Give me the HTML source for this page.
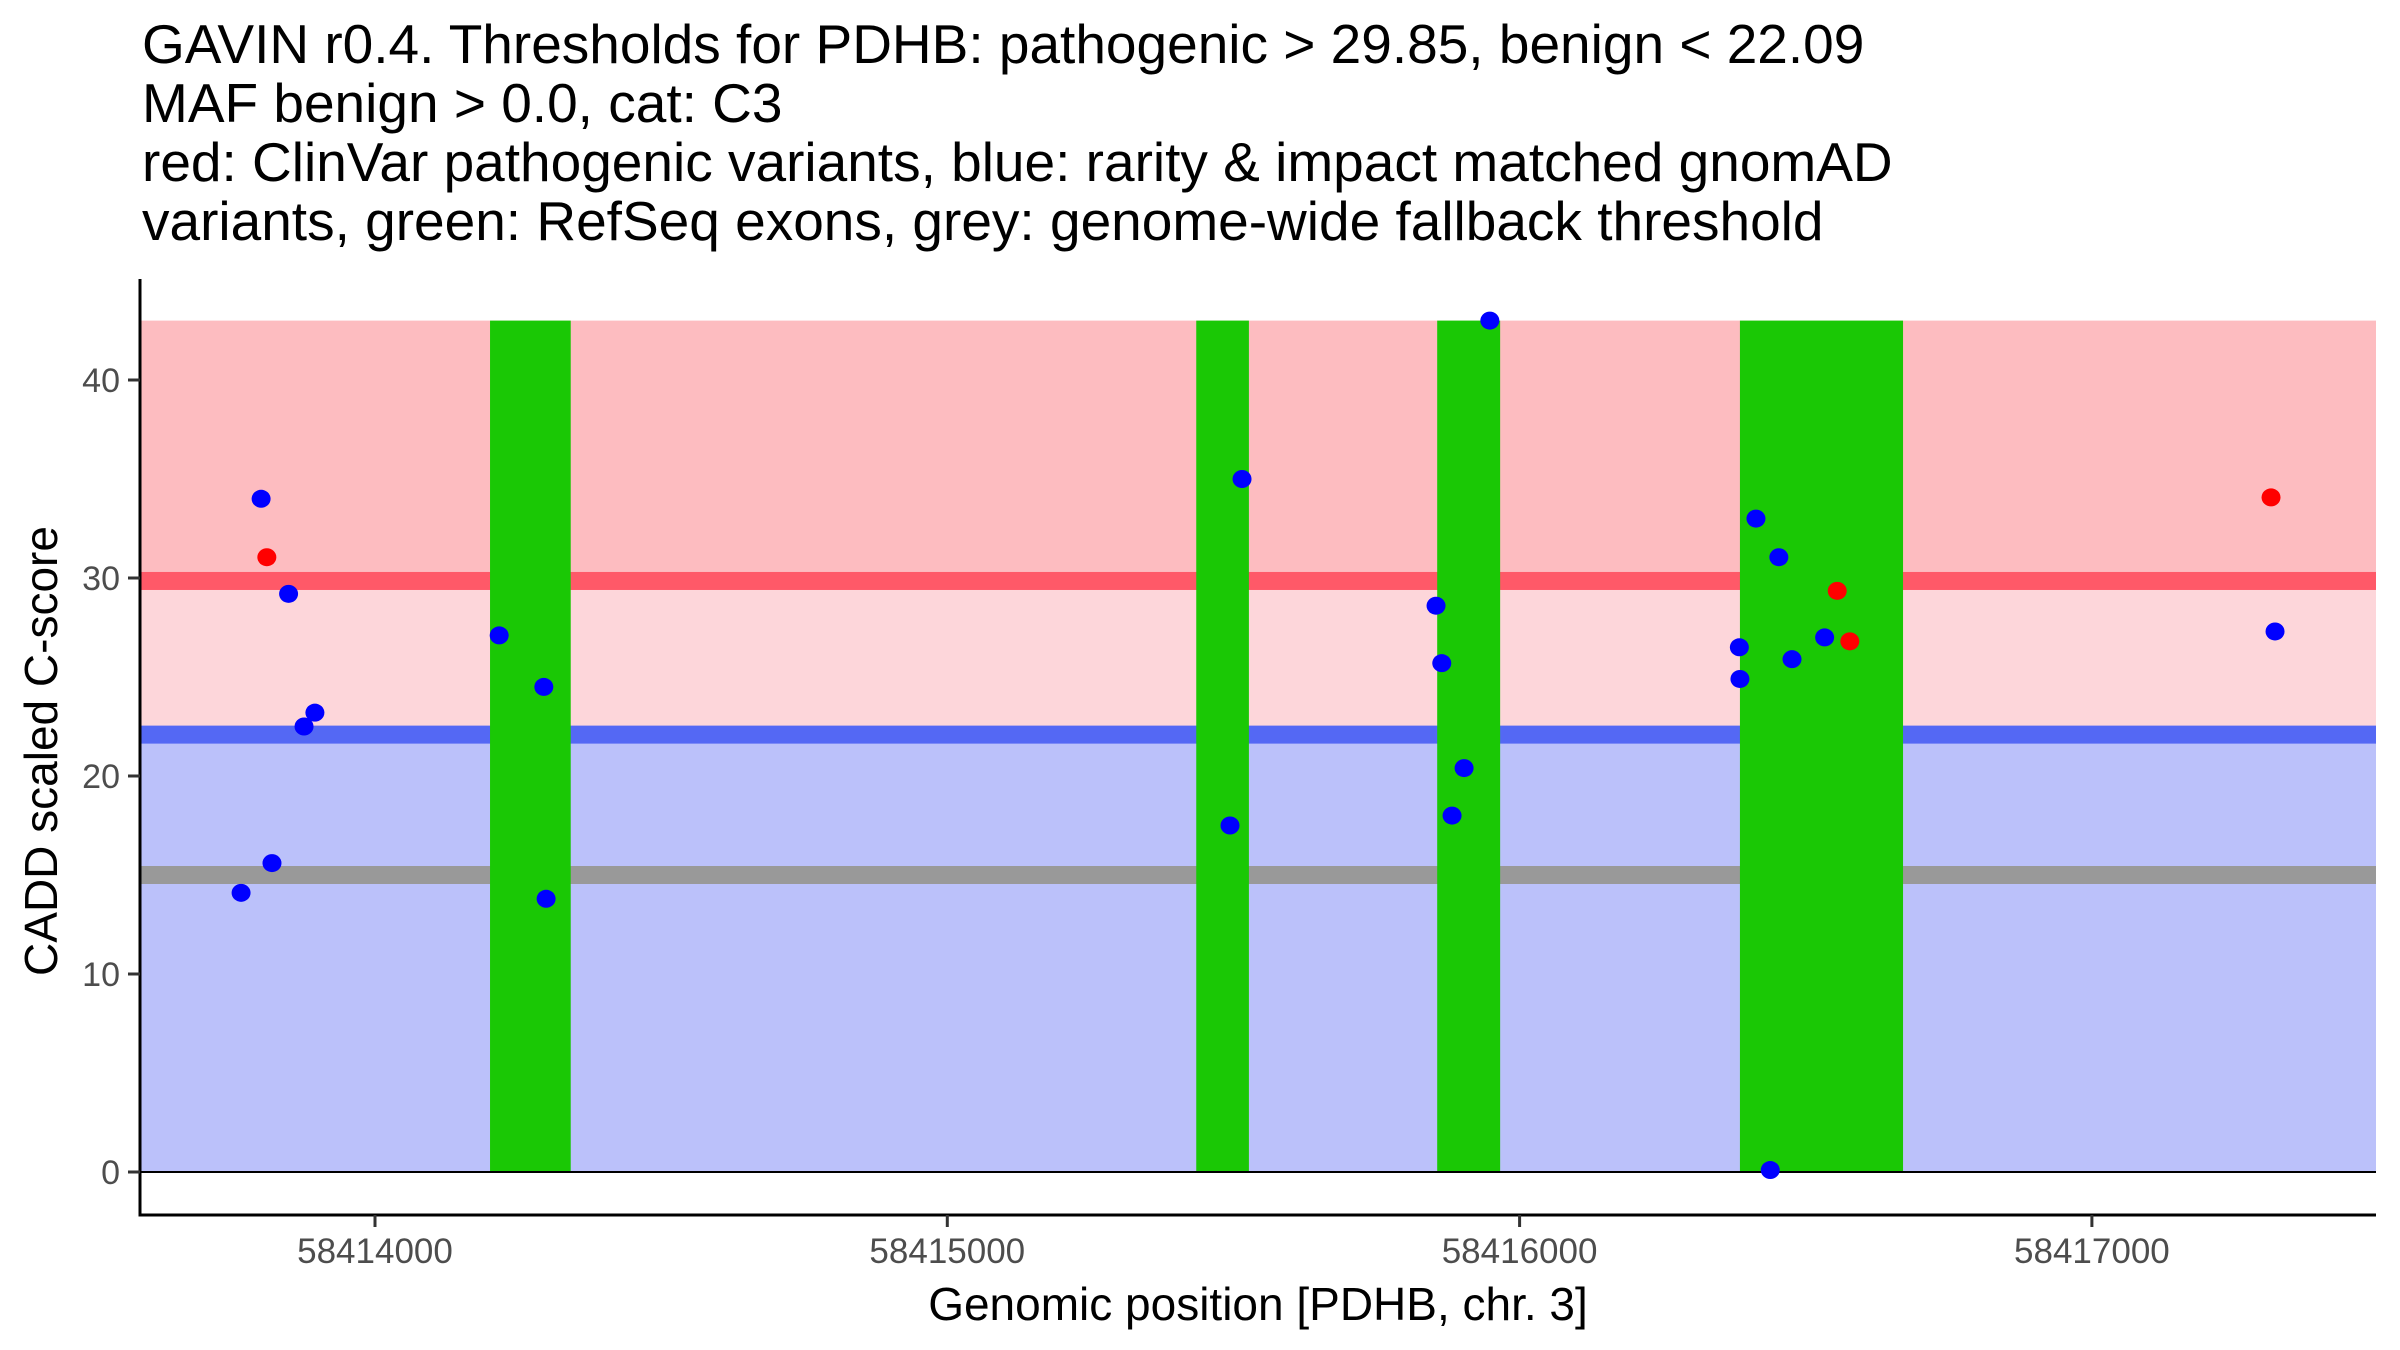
<!DOCTYPE html>
<html><head><meta charset="utf-8">
<style>
html,body{margin:0;padding:0;background:#fff;}
svg{display:block;font-family:"Liberation Sans",Arial,sans-serif;}
</style></head>
<body>
<svg id="chart" width="2400" height="1350" viewBox="0 0 2400 1350" xmlns="http://www.w3.org/2000/svg">
<g font-size="55" fill="#000">
<text x="142" y="63">GAVIN r0.4. Thresholds for PDHB: pathogenic &gt; 29.85, benign &lt; 22.09</text>
<text x="142" y="122">MAF benign &gt; 0.0, cat: C3</text>
<text x="142" y="181">red: ClinVar pathogenic variants, blue: rarity &amp; impact matched gnomAD</text>
<text x="142" y="240">variants, green: RefSeq exons, grey: genome-wide fallback threshold</text>
</g>
<g id="plot"></g>
<text x="1258" y="1320" font-size="46" text-anchor="middle" fill="#000">Genomic position [PDHB, chr. 3]</text>
<text transform="translate(57,751) rotate(-90)" font-size="46" text-anchor="middle" fill="#000">CADD scaled C-score</text>
</svg>
<script>
const pathoThreshold = 29.85;
const benignThreshold = 22.09;
const fallbackThreshold = 15;
const bandTop = 43;
const exonStarts = [58414201, 58415435, 58415856, 58416385];
const exonEnds = [58414342, 58415527, 58415966, 58416670];
const benignPos = [58413766,58413801,58413820,58413849,58413876,58413895,58414217,58414295,58414299,58415515,58415494,58415948,58415854,58415864,58415903,58415882,58416413,58416453,58416384,58416385,58416476,58416533,58416438,58417320];
const benignScore = [14.1,34.0,15.6,29.2,22.5,23.2,27.1,24.5,13.8,35.0,17.5,43.0,28.6,25.7,20.4,18.0,33.0,31.05,26.5,24.9,25.9,27.0,0.1,27.3];
const pathoPos = [58413811,58416555,58416577,58417313];
const pathoScore = [31.05,29.35,26.8,34.07];
const xTicks = [58414000,58415000,58416000,58417000];
const yTicks = [0,10,20,30,40];

const X0=140, X1=2376, YB=1215;
const sx = v => 375 + (v-58414000)*0.5723;
const sy = v => 1172 - v*19.8;
const NS='http://www.w3.org/2000/svg';
const g=document.getElementById('plot');
function mk(tag,attrs,parent){const e=document.createElementNS(NS,tag);for(const k in attrs)e.setAttribute(k,attrs[k]);(parent||g).appendChild(e);return e;}

let e;
e=mk('rect',{x:X0,y:sy(bandTop),width:X1-X0,height:sy(pathoThreshold)-sy(bandTop),fill:'#fdbcc0'});


e=mk('rect',{x:X0,y:sy(pathoThreshold),width:X1-X0,height:sy(benignThreshold)-sy(pathoThreshold),fill:'#fdd6da'});


e=mk('rect',{x:X0,y:sy(benignThreshold),width:X1-X0,height:sy(0)-sy(benignThreshold),fill:'#bbc1fa'});


e=mk('rect',{x:X0,y:sy(pathoThreshold)-9,width:X1-X0,height:18,fill:'#ff5968'});


e=mk('rect',{x:X0,y:sy(benignThreshold)-9,width:X1-X0,height:18,fill:'#5468f4'});


e=mk('rect',{x:X0,y:sy(fallbackThreshold)-9,width:X1-X0,height:18,fill:'#999999'});


exonStarts.forEach((s,i)=>{
  const r=mk('rect',{x:sx(s),y:sy(bandTop),width:sx(exonEnds[i])-sx(s),height:sy(0)-sy(bandTop),fill:'#1ac805'});
  
  
});
e=mk('line',{x1:X0,x2:X1,y1:sy(0),y2:sy(0),stroke:'#000','stroke-width':2});


benignPos.forEach((p,i)=>{
  const c=mk('ellipse',{cx:sx(p),cy:sy(benignScore[i]),rx:9.5,ry:9,fill:'#0000ff'});
  
  
});
pathoPos.forEach((p,i)=>{
  const c=mk('ellipse',{cx:sx(p),cy:sy(pathoScore[i]),rx:9.5,ry:9,fill:'#ff0000'});
  
  
});
e=mk('line',{x1:X0,x2:X0,y1:279,y2:YB+1.5,stroke:'#000','stroke-width':3});


e=mk('line',{x1:X0-1.5,x2:X1,y1:YB,y2:YB,stroke:'#000','stroke-width':3});


yTicks.forEach(t=>{
  const l=mk('line',{x1:X0-12,x2:X0,y1:sy(t),y2:sy(t),stroke:'#333','stroke-width':3});
  
  
  const tx=mk('text',{x:X0-20,y:sy(t)+12,'font-size':34,'text-anchor':'end',fill:'#4d4d4d'});
  tx.textContent=t;
  
  
});
xTicks.forEach(t=>{
  const l=mk('line',{x1:sx(t),x2:sx(t),y1:YB,y2:YB+12,stroke:'#333','stroke-width':3});
  
  
  const tx=mk('text',{x:sx(t),y:YB+48,'font-size':35,'text-anchor':'middle',fill:'#4d4d4d'});
  tx.textContent=t;
  
  
});
</script>
</body></html>
